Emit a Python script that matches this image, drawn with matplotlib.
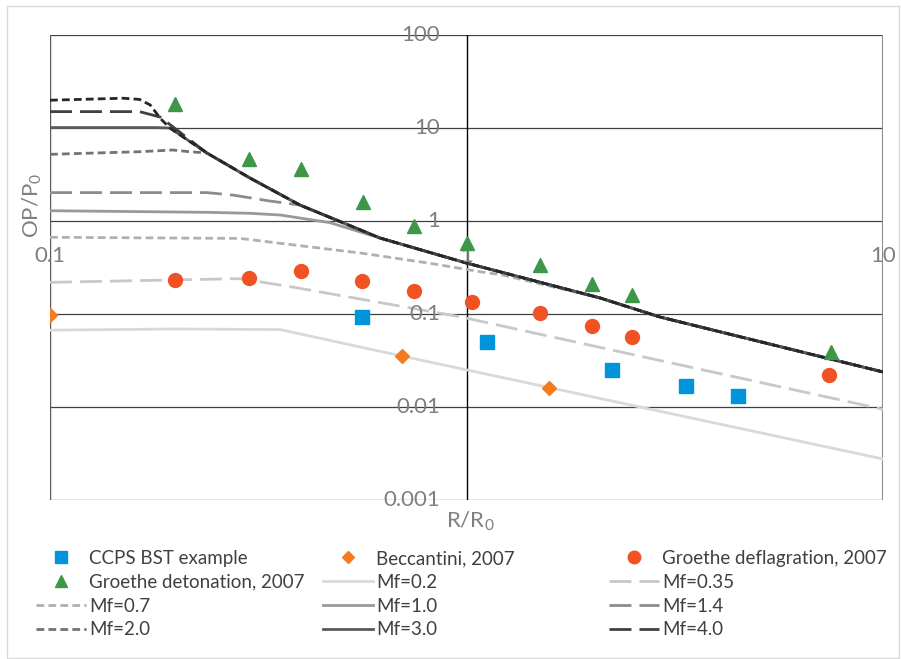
import matplotlib
matplotlib.use("Agg")
import matplotlib.pyplot as plt
from matplotlib.patches import Rectangle

plt.rcParams['font.family'] = ['Lato', 'DejaVu Sans']
plt.rcParams['mathtext.fontset'] = 'custom'
plt.rcParams['mathtext.rm'] = 'Lato'
plt.rcParams['mathtext.it'] = 'Lato:italic'

# measured points
ccps_x = [0.56, 1.12, 2.24, 3.36, 4.48]
ccps_y = [0.093, 0.050, 0.025, 0.017, 0.013]

becc_x = [0.1, 0.7, 1.58]
becc_y = [0.098, 0.035, 0.016]

defl_x = [0.2, 0.3, 0.4, 0.56, 0.75, 1.03, 1.5, 2.0, 2.5, 7.4]
defl_y = [0.234, 0.242, 0.29, 0.226, 0.178, 0.135, 0.102, 0.074, 0.056, 0.022]

det_x = [0.2, 0.3, 0.4, 0.565, 0.75, 1.0, 1.5, 2.0, 2.5, 7.5]
det_y = [18.1, 4.6, 3.6, 1.6, 0.88, 0.58, 0.34, 0.21, 0.159, 0.039]

# BST curves (common high-velocity tail)
tail_x = [0.194, 0.238, 0.302, 0.398, 0.62, 1.0, 2.09, 2.91, 10]
tail_y = [10.0, 5.39, 2.90, 1.486, 0.656, 0.353, 0.149, 0.093, 0.0238]

mf02_x = [0.1, 0.2, 0.357, 0.7, 10]
mf02_y = [0.067, 0.069, 0.068, 0.0353, 0.00276]
mf035_x = [0.1, 0.286, 0.377, 0.964, 10]
mf035_y = [0.219, 0.24, 0.197, 0.0935, 0.00945]
mf07_x = [0.1, 0.286, 0.357, 0.564, 0.817, 1.077, 1.22] + tail_x[6:]
mf07_y = [0.668, 0.65, 0.576, 0.449, 0.351, 0.285, 0.263] + tail_y[6:]
mf10_x = [0.1, 0.238, 0.302, 0.357, 0.47] + tail_x[4:]
mf10_y = [1.29, 1.24, 1.21, 1.16, 0.96] + tail_y[4:]
mf14_x = [0.1, 0.238, 0.275, 0.337] + tail_x[3:]
mf14_y = [2.02, 2.02, 1.90, 1.64] + tail_y[3:]
mf20_x = [0.1, 0.164, 0.197, 0.216] + tail_x[1:]
mf20_y = [5.21, 5.56, 5.80, 5.56] + tail_y[1:]
mf30_x = [0.1, 0.18] + tail_x
mf30_y = [10.1, 10.1] + tail_y
mf40_x = [0.1, 0.164, 0.184] + tail_x[1:]
mf40_y = [15.0, 15.0, 13.1] + tail_y[1:]
mf52_x = [0.1, 0.15, 0.164, 0.174, 0.184] + tail_x
mf52_y = [19.9, 20.9, 20.3, 17.7, 12.7] + tail_y

short = (2.8, 1.5)
long_ = (7.9, 2.9)

fig = plt.figure(figsize=(9.01, 6.59), dpi=100)
ax = fig.add_axes([50/901, 1-500/659, (883-50)/901, (500-35)/659])
ax.set_xscale('log')
ax.set_yscale('log')
ax.set_xlim(0.1, 10)
ax.set_ylim(0.001, 100)
for s in ax.spines.values():
    s.set_visible(False)
ax.set_xticks([])
ax.set_yticks([])
ax.minorticks_off()
ax.tick_params(which='both', length=0, labelleft=False, labelbottom=False)

for v in [0.001, 0.01, 0.1, 1, 10, 100]:
    ax.axhline(v, color='#404040', lw=0.9, zorder=1)
ax.axvline(0.1, color='#595959', lw=1.0, zorder=1)
ax.axvline(10, color='#8c8c8c', lw=1.5, zorder=1)
ax.axvline(1, color='black', lw=1.0, zorder=1)

lw = 2.0
h = {}
h['Mf=0.2'], = ax.plot(mf02_x, mf02_y, color='#d9d9d9', lw=lw, zorder=2)
h['Mf=0.35'], = ax.plot(mf035_x, mf035_y, color='#c8c8c8', lw=lw, ls=(0, long_), zorder=2)
h['Mf=0.7'], = ax.plot(mf07_x, mf07_y, color='#b0b0b0', lw=lw, ls=(0, short), zorder=2)
h['Mf=1.0'], = ax.plot(mf10_x, mf10_y, color='#999999', lw=lw, zorder=2)
h['Mf=1.4'], = ax.plot(mf14_x, mf14_y, color='#8c8c8c', lw=lw, ls=(0, long_), zorder=2)
h['Mf=2.0'], = ax.plot(mf20_x, mf20_y, color='#737373', lw=lw, ls=(0, short), zorder=2)
h['Mf=3.0'], = ax.plot(mf30_x, mf30_y, color='#595959', lw=lw, zorder=2)
h['Mf=4.0'], = ax.plot(mf40_x, mf40_y, color='#404040', lw=lw, ls=(0, long_), zorder=2)
ax.plot(mf52_x, mf52_y, color='#262626', lw=lw, ls=(0, short), zorder=2)

h['CCPS BST example'], = ax.plot(ccps_x, ccps_y, ls='none', marker='s', ms=10, color='#0095da', zorder=4)
h['Beccantini, 2007'], = ax.plot(becc_x, becc_y, ls='none', marker='D', ms=7, color='#f57b20', zorder=4)
h['Groethe deflagration, 2007'], = ax.plot(defl_x, defl_y, ls='none', marker='o', ms=10, color='#f15223', zorder=4)
h['Groethe detonation, 2007'], = ax.plot(det_x, det_y, ls='none', marker='^', ms=10, color='#3e9648', zorder=4)

gray = '#7f7f7f'
for v, t in zip([100, 10, 1, 0.1, 0.01, 0.001], ['100', '10', '1', '0.1', '0.01', '0.001']):
    ax.annotate(t, xy=(1, v), xytext=(-19, 0), textcoords='offset points',
                ha='right', va='center', fontsize=16, color=gray, zorder=3)
for v, t in zip([0.1, 1, 10], ['0.1', '1', '10']):
    ax.annotate(t, xy=(v, 1), xytext=(0, -25), textcoords='offset points',
                ha='center', va='center', fontsize=16, color=gray, zorder=3)

fig.text(32/901, 1-205/659, 'OP/P$_\\mathregular{0}$', rotation=90, ha='center', va='center',
         fontsize=16, color=gray)
fig.text(470/901, 1-521/659, 'R/R$_\\mathregular{0}$', ha='center', va='center',
         fontsize=16, color=gray)

cols = [['CCPS BST example', 'Groethe detonation, 2007', 'Mf=0.7', 'Mf=2.0'],
        ['Beccantini, 2007', 'Mf=0.2', 'Mf=1.0', 'Mf=3.0'],
        ['Groethe deflagration, 2007', 'Mf=0.35', 'Mf=1.4', 'Mf=4.0']]
for xpx, names in zip([36, 323, 609], cols):
    leg = fig.legend([h[n] for n in names], names, loc='upper left',
                     bbox_to_anchor=(xpx/901, 1-550/659), frameon=False,
                     fontsize=13.5, handlelength=2.67, handletextpad=0.15,
                     labelspacing=0.36, borderpad=0, borderaxespad=0, numpoints=1,
                     markerscale=0.9)
    for t in leg.get_texts():
        t.set_color('#404040')

fig.patches.append(Rectangle((7/901, 1/659), 892/901, 652/659, transform=fig.transFigure,
                             fill=False, edgecolor='#d9d9d9', lw=1.0))

fig.savefig('out.png', dpi=100)
